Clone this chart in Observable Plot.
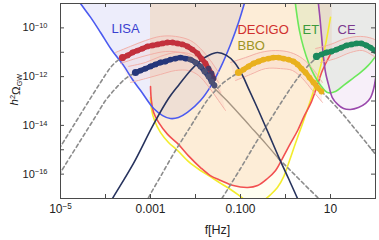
<!DOCTYPE html>
<html><head><meta charset="utf-8">
<script src="https://cdn.jsdelivr.net/npm/d3@7"></script>
<script src="https://cdn.jsdelivr.net/npm/@observablehq/plot@0.6"></script>
<style>body{margin:0;background:#fff} svg{font-family:"Liberation Sans",Arial,sans-serif}</style>
</head><body><div id="chart"></div>
<script>
// ---- data: log10(f/Hz) and log10(h^2 Omega_GW) ----
const lisaLogF  = [-4.9,-4.556,-4.33,-4.11,-3.87,-3.6,-3.4,-3.22,-2.93,-2.73,-2.56,-2.38,-2.18,-1.889,-1.667,-1.444,-1.222,-1.044,-0.844];
const lisaLogO  = [-8.1,-9.0,-9.57,-10.19,-10.89,-11.54,-12.12,-12.57,-13.31,-13.6,-13.72,-13.68,-13.47,-12.98,-12.41,-11.63,-10.68,-9.78,-8.55];
const decigoLogF = [-3.0,-2.98,-2.93,-2.82,-2.62,-2.4,-2.16,-1.89,-1.67,-1.44,-1.16,-0.84,-0.62,-0.4,-0.22,-0.07,0.11,0.27,0.42,0.56,0.69,0.82,0.96,1.04];
const decigoLogO = [-12.41,-12.98,-13.47,-13.88,-14.37,-14.74,-15.24,-15.73,-16.06,-16.26,-16.47,-16.55,-16.47,-16.18,-15.85,-15.36,-14.74,-14.21,-13.6,-13.1,-12.45,-11.75,-11.22,-10.93];
const bboLogF = [-3.0,-2.98,-2.91,-2.78,-2.6,-2.4,-2.16,-1.89,-1.67,-1.44,-1.22,-1.0,-0.82,-0.64,-0.49,-0.33,-0.18,-0.04,0.09,0.22,0.38,0.51,0.64,0.78,0.89,1.0];
const bboLogO = [-12.86,-13.31,-13.8,-14.29,-14.7,-15.03,-15.48,-15.85,-16.1,-16.38,-16.63,-16.92,-17.16,-17.2,-17.08,-16.84,-16.55,-16.1,-15.44,-14.74,-13.92,-13.23,-12.49,-11.58,-10.68,-9.57];
const etLogF = [0.2,0.24,0.31,0.4,0.51,0.64,0.78,0.93,1.11,1.29,1.49,1.67,1.84,2.0];
const etLogO = [-8.67,-9.29,-10.11,-10.8,-11.42,-11.95,-12.36,-12.65,-12.61,-12.36,-12.08,-11.83,-11.54,-11.17];
const ceLogF = [0.71,0.76,0.8,0.84,0.89,0.96,1.04,1.16,1.29,1.44,1.62,1.78,1.89,1.96,2.0];
const ceLogO = [-8.67,-9.49,-10.31,-11.13,-11.83,-12.36,-12.86,-13.14,-13.31,-13.35,-13.27,-13.1,-12.86,-12.49,-12.08];
const peakLogF = [-3.933,-3.844,-3.378,-2.933,-2.6,-2.378,-2.111,-1.889,-1.711,-1.511,-1.311,-1.133,-0.956,-0.822,-0.6,-0.378,-0.156,0.067,0.267,0.333];
const peakLogO = [-17.29,-17.0,-15.56,-13.96,-12.9,-12.36,-11.75,-11.34,-11.13,-11.01,-11.13,-11.42,-11.95,-12.49,-13.39,-14.33,-15.28,-16.18,-17.0,-17.29];
const taupeLogF = [-1.6,-1.222,-0.778,-0.444,-0.156];
const taupeLogO = [-12.45,-13.14,-14.05,-14.74,-15.36];
const taupeTailLogF = [-0.156,0.111,0.444,0.733,0.844];
const taupeTailLogO = [-15.36,-15.85,-16.47,-17.0,-17.25];
// signal tails (dashed)
const redTailLogF = [-5.111,-5.0,-4.667,-4.378,-4.111,-3.889,-3.733,-3.622];
const redTailLogO = [-15.19,-14.87,-13.88,-13.02,-12.24,-11.63,-11.34,-11.22];
const blueTailLogF = [-5.111,-5.0,-4.556,-4.222,-4.0,-3.778,-3.556,-3.333];
const blueTailLogO = [-16.26,-15.93,-14.62,-13.64,-12.98,-12.49,-12.08,-11.83];
const yellowTailLogF = [-3.111,-3.044,-2.778,-2.444,-2.111,-1.889,-1.711,-1.556,-1.4,-1.222,-1.044];
const yellowTailLogO = [-17.21,-16.96,-16.1,-15.03,-14.05,-13.39,-12.9,-12.57,-12.28,-12.04,-11.83];
const yellowHighLogF = [0.8,0.956,1.222,1.556,1.933,2.111];
const yellowHighLogO = [-12.61,-12.9,-13.43,-14.17,-15.03,-15.44];
const greenTailLogF = [-1.489,-1.4,-1.0,-0.667,-0.333,-0.067,0.156,0.333,0.511,0.689];
const greenTailLogO = [-17.21,-16.96,-15.77,-14.74,-13.76,-12.98,-12.36,-11.91,-11.54,-11.22];
// signal dots
const redDotLogF = [-3.622,-3.511,-3.4,-3.289,-3.178,-3.067,-2.956,-2.844,-2.733,-2.622,-2.511,-2.4,-2.289,-2.178,-2.067,-1.956,-1.867,-1.778,-1.711,-1.644,-1.6];
const redDotLogO = [-11.22,-11.13,-11.01,-10.93,-10.85,-10.76,-10.72,-10.68,-10.64,-10.6,-10.6,-10.64,-10.68,-10.76,-10.89,-11.05,-11.26,-11.46,-11.67,-11.87,-12.08];
const blueDotLogF = [-3.333,-3.222,-3.111,-3.0,-2.889,-2.778,-2.667,-2.556,-2.444,-2.333,-2.222,-2.111,-2.0,-1.889,-1.8,-1.711,-1.644,-1.578];
const blueDotLogO = [-11.83,-11.75,-11.67,-11.58,-11.5,-11.42,-11.38,-11.3,-11.26,-11.22,-11.26,-11.3,-11.42,-11.58,-11.79,-11.99,-12.2,-12.36];
const yellowDotLogF = [-1.044,-0.933,-0.822,-0.711,-0.6,-0.489,-0.378,-0.267,-0.156,-0.044,0.067,0.178,0.267,0.356,0.444,0.533,0.622,0.711,0.8];
const yellowDotLogO = [-11.83,-11.71,-11.58,-11.46,-11.38,-11.3,-11.26,-11.22,-11.22,-11.26,-11.3,-11.38,-11.5,-11.67,-11.83,-12.04,-12.24,-12.45,-12.61];
const greenDotLogF = [0.689,0.8,0.911,1.022,1.133,1.244,1.356,1.467,1.578,1.689,1.8,1.889,1.978,2.067];
const greenDotLogO = [-11.17,-11.09,-11.01,-10.97,-10.89,-10.81,-10.72,-10.68,-10.64,-10.64,-10.72,-10.81,-10.93,-11.05];
// uncertainty envelopes: [logF[], logO[]]
const envRedUpper = [[-3.778,-3.444,-3.111,-2.778,-2.444,-2.111,-1.889,-1.667,-1.489],[-11.01,-10.76,-10.52,-10.35,-10.35,-10.52,-10.85,-11.34,-11.83]];
const envRedLower = [[-3.667,-3.333,-3.0,-2.667,-2.333,-2.067,-1.844,-1.622,-1.444],[-11.46,-11.26,-11.09,-10.97,-11.01,-11.22,-11.58,-12.16,-12.65]];
const envBlueUpper = [[-3.489,-3.111,-2.778,-2.444,-2.156,-1.933,-1.711,-1.489],[-11.58,-11.42,-11.17,-11.01,-11.05,-11.26,-11.67,-12.24]];
const envBlueLower = [[-3.444,-3.111,-2.778,-2.444,-2.156,-1.933,-1.711,-1.489,-1.333],[-12.24,-12.08,-11.91,-11.75,-11.75,-11.95,-12.41,-12.98,-13.39]];
const envYellowUpper = [[-1.222,-0.889,-0.556,-0.222,0.111,0.378,0.6,0.822],[-11.42,-11.22,-11.01,-10.93,-11.01,-11.26,-11.67,-12.24]];
const envYellowLower = [[-1.111,-0.778,-0.444,-0.111,0.156,0.378,0.6,0.822],[-12.16,-11.91,-11.67,-11.67,-11.75,-12.08,-12.57,-13.06]];
const envGreenUpper = [[0.667,1.0,1.333,1.667,1.933,2.089],[-10.85,-10.68,-10.44,-10.35,-10.44,-10.6]];
const envGreenLower = [[0.778,1.111,1.444,1.711,1.933,2.089],[-11.42,-11.26,-11.01,-10.93,-11.13,-11.34]];
const labels = [
  {text:"LISA", lf:-3.867, lo:-10.03, color:"#3a3fd0"},
  {text:"DECIGO", lf:-1.067, lo:-10.07, color:"#d0302e"},
  {text:"BBO", lf:-1.067, lo:-10.72, color:"#9c9424"},
  {text:"ET", lf:0.378, lo:-10.07, color:"#3c9a3c"},
  {text:"CE", lf:1.156, lo:-10.1, color:"#7c3a8e"}
];
const xLabelTicks = [1e-5, 1e-3, 1e-1, 10];
const xLabelText = ["10^\u22125", "0.001", "0.100", "10"];
const yLabelTicks = [1e-10, 1e-12, 1e-14, 1e-16];
const yLabelText = ["10^\u221210", "10^\u221212", "10^\u221214", "10^\u221216"];
const xDecades = [1e-5,1e-4,1e-3,1e-2,1e-1,1,10,100];
const yDecades = [1e-17,1e-16,1e-15,1e-14,1e-13,1e-12,1e-11,1e-10,1e-9];

// ---- build ----
const pts = (lf, lo) => lf.map((v,i) => ({f: 10**v, o: 10**lo[i], lf: v, i}));
const TOP = 1e-9;
const fill = (lf, lo, color, op) => Plot.areaY(pts(lf, lo), {x:"f", y1:"o", y2: TOP, fill: color, fillOpacity: op, curve:"catmull-rom", clip:true});
const line = (lf, lo, stroke, w=1.5, extra={}) => Plot.line(pts(lf, lo), {x:"f", y:"o", stroke, strokeWidth:w, curve:"catmull-rom", clip:true, ...extra});
const dashed = (lf, lo) => line(lf, lo, "#8c8c8c", 1.6, {strokeDasharray:"3.5,3"});
const band = (lf, lo, stroke) => Plot.line(pts(lf, lo), {x:"f", y:"o", stroke, strokeWidth:5, strokeLinecap:"round", curve:"catmull-rom", clip:true});
const dots = (lf, lo, colorFn) => Plot.dot(pts(lf, lo), {x:"f", y:"o", r: d => d.i === 0 ? 3.6 : 2.9, fill: colorFn, stroke:"none", clip:true});
const envArea = (up, lo) => Plot.area(up[0].map((v,i) => ({x1: 10**v, y1: 10**up[1][i], x2: 10**lo[0][Math.min(i, lo[0].length-1)], y2: 10**lo[1][Math.min(i, lo[1].length-1)]})),
  {x1:"x1", y1:"y1", x2:"x2", y2:"y2", fill:"#f5b8b0", fillOpacity:0.18, curve:"catmull-rom", clip:true});

const W = 379, H = 240, ML = 60, MR = 4, MT = 3, MB = 42;
const PW = W-ML-MR, PH = H-MT-MB;

const svg = Plot.plot({
  width: W, height: H, marginLeft: ML, marginRight: MR, marginTop: MT, marginBottom: MB,
  style: {fontSize: "12px", fontFamily: "'Liberation Sans', Arial, sans-serif", background: "#fff", color: "#222"},
  x: {type: "log", domain: [1e-5, 100]},
  y: {type: "log", domain: [1e-17, 1e-9]},
  r: {type: "identity"},
  marks: [
    fill(lisaLogF, lisaLogO, "#b4b4f0", 0.24),
    fill(bboLogF, bboLogO, "#fff064", 0.09),
    fill(decigoLogF, decigoLogO, "#f5a064", 0.18),
    fill(etLogF, etLogO, "#96dc82", 0.15),
    fill(ceLogF, ceLogO, "#c896d7", 0.15),
    envArea(envRedUpper, envBlueLower),
    envArea(envYellowUpper, envYellowLower),
    envArea(envGreenUpper, envGreenLower),
    line(bboLogF, bboLogO, "#f3ec2c", 1.6),
    line(decigoLogF, decigoLogO, "#f25050", 1.6),
    line(lisaLogF, lisaLogO, "#4b5af0", 1.6),
    line(etLogF, etLogO, "#6be85a", 1.6),
    line(ceLogF, ceLogO, "#9a48ac", 1.6),
    ...[envRedUpper, envRedLower, envBlueUpper, envBlueLower, envYellowUpper, envYellowLower, envGreenUpper, envGreenLower]
      .map(([a,b]) => line(a, b, "#f2aaa2", 0.9)),
    dashed(redTailLogF, redTailLogO),
    dashed(blueTailLogF, blueTailLogO),
    dashed(yellowTailLogF, yellowTailLogO),
    dashed(yellowHighLogF, yellowHighLogO),
    dashed(greenTailLogF, greenTailLogO),
    dashed(taupeTailLogF, taupeTailLogO),
    line(taupeLogF, taupeLogO, "#a69684", 1.4),
    line(peakLogF, peakLogO, "#27335e", 1.6),
    band(redDotLogF, redDotLogO, "#b8303e"),
    band(blueDotLogF, blueDotLogO, "#2a3a78"),
    band(yellowDotLogF, yellowDotLogO, "#e9b11e"),
    band(greenDotLogF, greenDotLogO, "#1b8a5c"),
    dots(redDotLogF, redDotLogO, d => d.lf > -1.75 ? "#4a3a66" : "#c3303b"),
    dots(blueDotLogF, blueDotLogO, d => d.lf > -2.2 ? "#4c5074" : "#25367a"),
    dots(yellowDotLogF, yellowDotLogO, "#e9b11e"),
    dots(greenDotLogF, greenDotLogO, "#1b8a5c"),
    Plot.text(labels, {x: d => 10**d.lf, y: d => 10**d.lo, text: "text", fill: "color", textAnchor: "start", fontSize: 13, lineAnchor: "middle"}),
    Plot.frame({stroke: "#4a4a4a", strokeWidth: 1}),
    Plot.tickX(xDecades, {x: d => d, insetTop: PH-4, stroke: "#4a4a4a"}),
    Plot.tickX(xDecades, {x: d => d, insetBottom: PH-4, stroke: "#4a4a4a"}),
    Plot.tickY(yDecades, {y: d => d, insetRight: PW-4, stroke: "#4a4a4a"}),
    Plot.tickY(yDecades, {y: d => d, insetLeft: PW-4, stroke: "#4a4a4a"}),
    Plot.axisX({ticks: xLabelTicks, tickSize: 0, tickPadding: 6, label: null, fontSize: 12, tickFormat: d => xLabelText[xLabelTicks.indexOf(d)]}),
    Plot.axisY({ticks: yLabelTicks, tickSize: 0, tickPadding: 13, label: null, fontSize: 11, tickFormat: d => yLabelText[yLabelTicks.indexOf(d)]})
  ]
});

const s = d3.select(svg);
// superscripts in tick labels
s.selectAll("text").each(function() {
  const t = this.textContent;
  if (t && t.includes("^") && this.children.length === 0) {
    const [base, exp] = t.split("^");
    const sel = d3.select(this);
    sel.text(base);
    sel.append("tspan").attr("dy", "-0.45em").attr("font-size", "0.68em").text(exp);
  }
});
const yt = s.append("text").attr("transform", `translate(18,${MT + PH*0.445}) rotate(-90)`)
  .attr("text-anchor", "middle").attr("font-size", 11.5).attr("fill", "#222");
yt.append("tspan").attr("font-style", "italic").text("h");
yt.append("tspan").attr("dy", "-0.45em").attr("font-size", "0.65em").text("2");
yt.append("tspan").attr("dy", "0.45em").text("\u03A9");
yt.append("tspan").attr("dy", "0.3em").attr("font-size", "0.62em").text("GW");
s.append("text").attr("x", ML + PW/2).attr("y", 234).attr("text-anchor", "middle").attr("font-size", 12.5).attr("fill", "#222").text("f[Hz]");

document.getElementById("chart").append(svg);
</script>
</body></html>
